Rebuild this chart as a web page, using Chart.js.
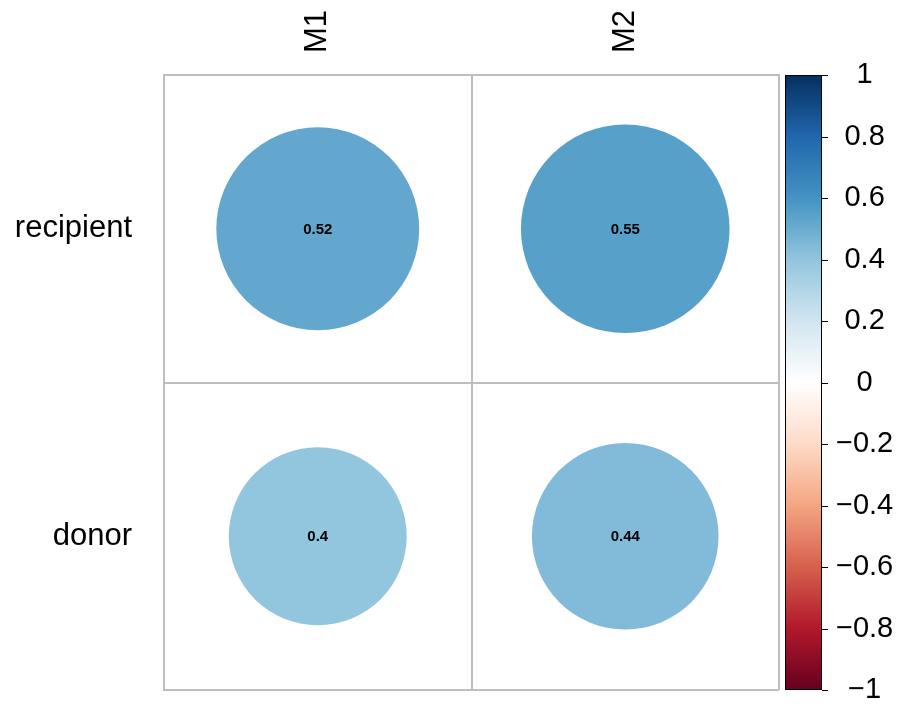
<!DOCTYPE html>
<html>
<head>
<meta charset="utf-8">
<script src="https://cdn.jsdelivr.net/npm/chart.js@4/dist/chart.umd.min.js"></script>
<style>
  html, body { margin: 0; padding: 0; background: #ffffff; }
  #wrap { width: 900px; height: 706px; position: relative; }
</style>
</head>
<body>
<div id="wrap"><canvas id="c" width="900" height="706"></canvas></div>
<script>
// ---- data ----
const columns = ['M1', 'M2'];
const rows = ['recipient', 'donor'];
const recipientValues = [0.52, 0.55];
const donorValues = [0.40, 0.44];
const colorbarMin = -1;
const colorbarMax = 1;
const colorbarStep = 0.2;
// RdBu palette, from -1 to 1
const paletteColors = ['#67001F', '#B2182B', '#D6604D', '#F4A582', '#FDDBC7', '#FFFFFF',
                       '#D1E5F0', '#92C5DE', '#4393C3', '#2166AC', '#053061'];

const FONT = '"Liberation Sans", Arial, Helvetica, sans-serif';
const GRID = '#bebebe';

function hexToRgb(h) {
  return [parseInt(h.slice(1, 3), 16), parseInt(h.slice(3, 5), 16), parseInt(h.slice(5, 7), 16)];
}
function colorFor(v) {
  const t = (v - colorbarMin) / (colorbarMax - colorbarMin) * (paletteColors.length - 1);
  const i = Math.min(Math.floor(t), paletteColors.length - 2);
  const f = t - i;
  const a = hexToRgb(paletteColors[i]), b = hexToRgb(paletteColors[i + 1]);
  const c = a.map((x, k) => Math.round(x + (b[k] - x) * f));
  return 'rgb(' + c.join(',') + ')';
}

const points = [];
rows.forEach((r, ri) => {
  const vals = ri === 0 ? recipientValues : donorValues;
  columns.forEach((c, ci) => points.push({ x: c, y: r, v: vals[ci] }));
});
const pointColors = points.map(p => colorFor(p.v));

const colorbarPlugin = {
  id: 'colorbar',
  afterDraw(chart) {
    const cb = chart.scales.cb;
    const ctx = chart.ctx;
    const x0 = cb.left + 6, x1 = cb.left + 43;
    const yTop = cb.getPixelForValue(colorbarMax);
    const yBot = cb.getPixelForValue(colorbarMin);
    const g = ctx.createLinearGradient(0, yBot, 0, yTop);
    paletteColors.forEach((col, i) => g.addColorStop(i / (paletteColors.length - 1), col));
    ctx.save();
    ctx.fillStyle = g;
    ctx.fillRect(x0, yTop, x1 - x0, yBot - yTop);
    ctx.strokeStyle = '#000';
    ctx.lineWidth = 1;
    ctx.strokeRect(x0 + 0.5, yTop + 0.5, x1 - x0 - 1, yBot - yTop - 1);
    cb.ticks.forEach(t => {
      const y = Math.round(cb.getPixelForValue(t.value)) + 0.5;
      ctx.beginPath();
      ctx.moveTo(x1, y);
      ctx.lineTo(x1 + 6, y);
      ctx.stroke();
    });
    ctx.restore();
  }
};

const valueLabelPlugin = {
  id: 'valueLabels',
  afterDatasetsDraw(chart) {
    const ctx = chart.ctx;
    const meta = chart.getDatasetMeta(0);
    ctx.save();
    ctx.font = 'bold 15px ' + FONT;
    ctx.fillStyle = '#000';
    ctx.textAlign = 'center';
    ctx.textBaseline = 'middle';
    meta.data.forEach((el, i) => {
      ctx.fillText(String(points[i].v), el.x, el.y + 1);
    });
    ctx.restore();
  }
};

const chart = new Chart(document.getElementById('c'), {
  type: 'bubble',
  data: {
    datasets: [{
      data: points,
      backgroundColor: pointColors,
      borderWidth: 0,
      clip: false
    }]
  },
  options: {
    responsive: false,
    animation: false,
    events: [],
    layout: { autoPadding: false, padding: { left: 0, right: 0, top: 0, bottom: 16 } },
    plugins: { legend: { display: false }, tooltip: { enabled: false } },
    scales: {
      x: {
        type: 'category',
        labels: columns,
        position: 'top',
        offset: true,
        grid: { offset: true, color: GRID, lineWidth: 2, drawTicks: false },
        border: { display: true, color: GRID, width: 2 },
        ticks: { color: '#000', font: { family: FONT, size: 31 }, minRotation: 90, maxRotation: 90, padding: 22, labelOffset: 37 },
        afterFit: s => { s.height = 75; s.paddingLeft = 0; s.paddingRight = 0; }
      },
      y: {
        type: 'category',
        labels: rows,
        position: 'left',
        offset: true,
        grid: { offset: true, color: GRID, lineWidth: 2, drawTicks: false },
        border: { display: true, color: GRID, width: 2 },
        ticks: { color: '#000', font: { family: FONT, size: 31 }, padding: 32 },
        afterFit: s => { s.width = 164; s.paddingTop = 0; s.paddingBottom = 0; }
      },
      cb: {
        type: 'linear',
        position: 'right',
        min: colorbarMin,
        max: colorbarMax,
        grid: { display: false, drawTicks: false },
        border: { display: false },
        ticks: {
          stepSize: colorbarStep,
          color: '#000',
          font: { family: FONT, size: 29 },
          padding: 57,
          crossAlign: 'center',
          callback: v => { const r = Math.round(v * 10) / 10; return String(r).replace('-', '\u2212'); }
        },
        afterFit: s => { s.width = 121; s.paddingTop = 0; s.paddingBottom = 0; }
      }
    }
  },
  plugins: [colorbarPlugin, valueLabelPlugin]
});

// circle radius (pixels) from the x scale's cell width: area proportional to |value|
const xs = chart.scales.x;
const cellWidth = Math.abs(xs.getPixelForValue(1) - xs.getPixelForValue(0));
points.forEach(p => { p.r = 0.4575 * cellWidth * Math.sqrt(Math.abs(p.v)); });
chart.update('none');
</script>
</body>
</html>
